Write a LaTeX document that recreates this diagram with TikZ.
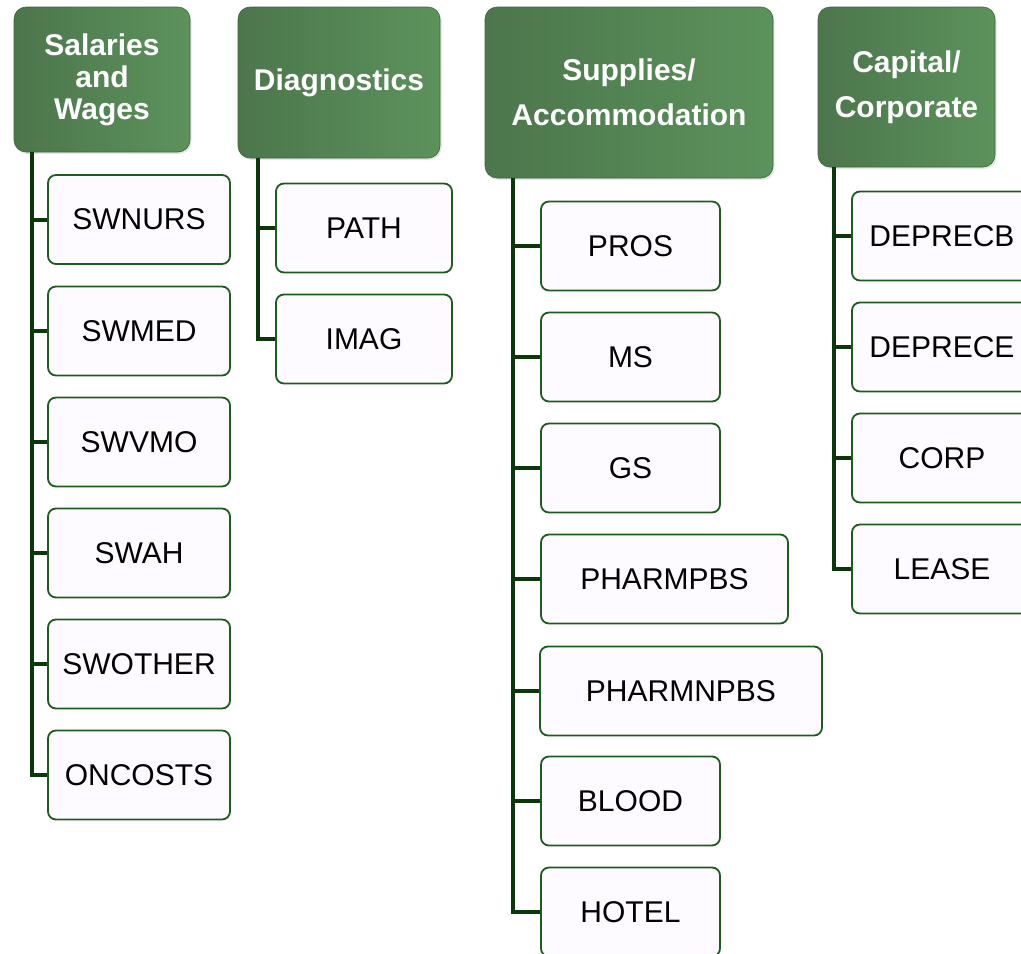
\documentclass[tikz,border=0pt]{standalone}
\usepackage{fontspec}
\setmainfont{Liberation Sans}
\usetikzlibrary{shadows}
\definecolor{hdrL}{RGB}{76,118,76}
\definecolor{hdrM}{RGB}{82,128,82}
\definecolor{hdrR}{RGB}{92,146,92}
\definecolor{leafdraw}{RGB}{30,92,30}
\definecolor{leaffill}{RGB}{253,251,255}
\definecolor{wirecol}{RGB}{10,56,10}
\begin{document}
\begin{tikzpicture}[x=1pt,y=-1pt,
  header/.style={rounded corners=12pt, left color=hdrL, middle color=hdrM, right color=hdrR,
    draw=hdrL!85!black, line width=0.6pt, text=white, align=center,
    inner sep=0pt, drop shadow={opacity=0.2,shadow xshift=1.5pt,shadow yshift=-2pt}},
  hfont/.style={font=\fontsize{30}{45}\selectfont\bfseries},
  leaf/.style={rounded corners=8pt, draw=leafdraw, fill=leaffill, line width=1.8pt,
    font=\fontsize{30}{36}\selectfont, minimum height=89pt, minimum width=180pt, inner sep=0pt},
  wire/.style={draw=wirecol, line width=4pt}]
\useasboundingbox (0,0) rectangle (1021,954);
\clip (0,0) rectangle (1021,954);

% ---- headers
\node[header, font=\fontsize{30}{32}\selectfont\bfseries, minimum width=176pt, minimum height=145pt]
  (h1) at (102,79.5) {Salaries\\and\\Wages};
\node[header, hfont, minimum width=202pt, minimum height=151pt]
  (h2) at (339,82.5) {Diagnostics};
\node[header, hfont, minimum width=288pt, minimum height=171pt]
  (h3) at (629,92.5) {Supplies/\\Accommodation};
\node[header, hfont, minimum width=177pt, minimum height=160pt]
  (h4) at (906.5,87) {Capital/\\Corporate};

% ---- Salaries and Wages
\node[leaf, minimum width=182pt] (a1) at (139,219.5) {SWNURS};
\node[leaf, minimum width=182pt] (a2) at (139,331) {SWMED};
\node[leaf, minimum width=182pt] (a3) at (139,442) {SWVMO};
\node[leaf, minimum width=182pt] (a4) at (139,553) {SWAH};
\node[leaf, minimum width=182pt] (a5) at (139,664) {SWOTHER};
\node[leaf, minimum width=182pt] (a6) at (139,775) {ONCOSTS};

% ---- Diagnostics
\node[leaf, minimum width=176pt] (b1) at (364,228) {PATH};
\node[leaf, minimum width=176pt] (b2) at (364,339) {IMAG};

% ---- Supplies/Accommodation
\node[leaf, minimum width=179pt] (c1) at (630.5,246) {PROS};
\node[leaf, minimum width=179pt] (c2) at (630.5,357) {MS};
\node[leaf, minimum width=179pt] (c3) at (630.5,468) {GS};
\node[leaf, minimum width=247pt] (c4) at (664.5,579) {PHARMPBS};
\node[leaf, minimum width=282pt] (c5) at (681,691) {PHARMNPBS};
\node[leaf, minimum width=179pt] (c6) at (630.5,801) {BLOOD};
\node[leaf, minimum width=179pt] (c7) at (630.5,912) {HOTEL};

% ---- Capital/Corporate
\node[leaf] (d1) at (942,236) {DEPRECB};
\node[leaf] (d2) at (942,347) {DEPRECE};
\node[leaf] (d3) at (942,458) {CORP};
\node[leaf] (d4) at (942,569) {LEASE};

% ---- connectors
\coordinate (t1) at ([xshift=18pt]h1.south west);
\coordinate (t2) at ([xshift=20pt]h2.south west);
\coordinate (t3) at ([xshift=28pt]h3.south west);
\coordinate (t4) at ([xshift=16pt]h4.south west);
\foreach \n in {a1,a2,a3,a4,a5,a6} \draw[wire] (t1) |- (\n.west);
\foreach \n in {b1,b2} \draw[wire] (t2) |- (\n.west);
\foreach \n in {c1,c2,c3,c4,c5,c6,c7} \draw[wire] (t3) |- (\n.west);
\foreach \n in {d1,d2,d3,d4} \draw[wire] (t4) |- (\n.west);
\end{tikzpicture}
\end{document}
